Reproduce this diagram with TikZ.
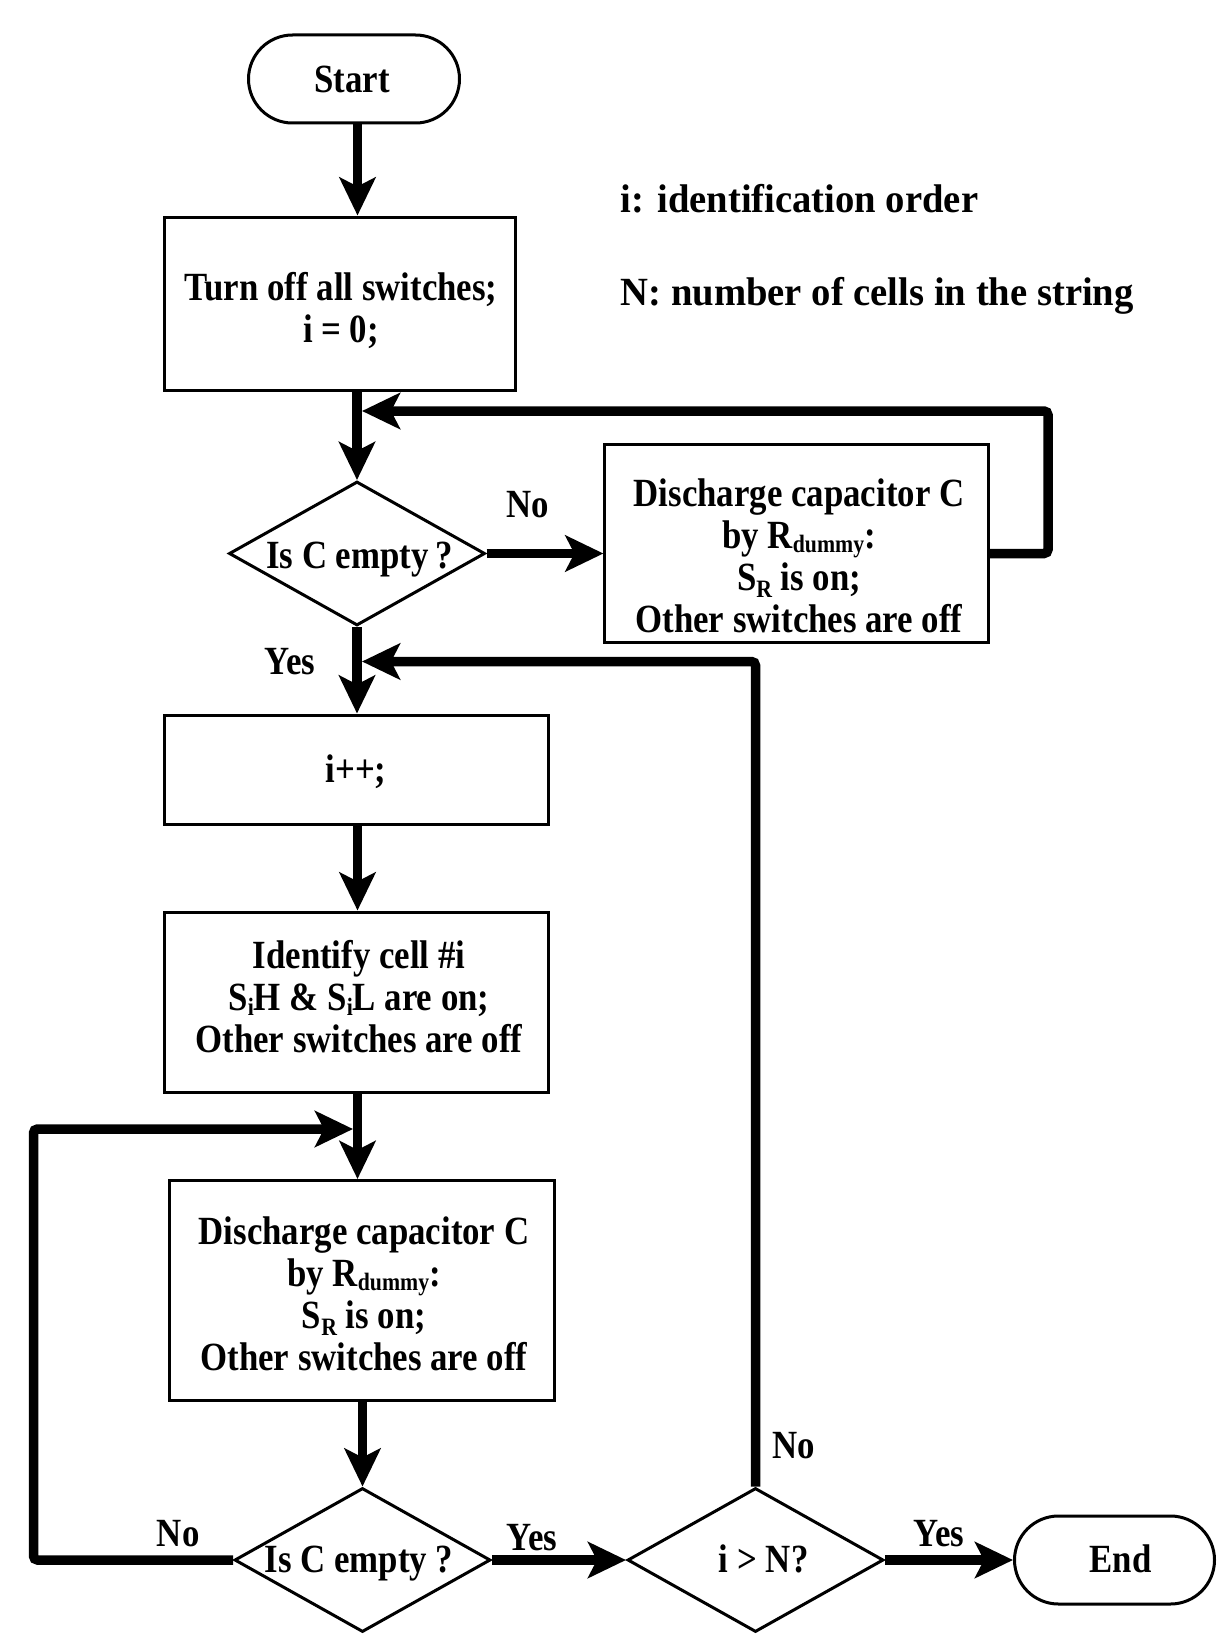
\documentclass[tikz,border=0pt]{standalone}
\usepackage{fontspec}
\setmainfont{Liberation Serif}[FakeStretch=0.87]
\newfontfamily\legfont{Liberation Serif}[FakeStretch=0.966]
\usetikzlibrary{arrows.meta,shapes.geometric}
\newcommand\mysub[2][-6pt]{\raisebox{#1}{\fontsize{25}{25}\selectfont #2}}
\begin{document}
\begin{tikzpicture}[x=1pt,y=-1pt,
  every node/.style={font=\fontsize{40}{42}\selectfont\bfseries,inner sep=0pt},
  box/.style={draw,line width=3pt,rectangle},
  term/.style={draw,line width=3pt,rectangle,rounded corners=44pt,minimum width=205pt,minimum height=88pt},
  dia/.style={draw,line width=3pt,diamond,minimum width=256pt,minimum height=144pt},
  txt/.style={align=center},
  leg/.style={anchor=base west,font=\fontsize{40}{42}\legfont\bfseries},
  flow/.style={line width=9.5pt,-{Stealth[length=38pt,width=36pt,inset=9pt]}},
  loopline/.style={line width=9.5pt,rounded corners=4pt,-{Stealth[length=38pt,width=36pt,inset=9pt]}}
]
\useasboundingbox (0,0) rectangle (1216,1643);

% helper coordinates
\coordinate (axis) at (357.5,0);
\coordinate (loopR) at (1048,0);
\coordinate (loopL) at (33.5,0);
\coordinate (j1) at (362,411);
\coordinate (j2) at (362,661.5);
\coordinate (j3) at (353,1129);

% start
\node[term,minimum width=211pt] (start) at (354,79) {};
\node (tstart) at (352,79) {Start};

% box 1
\node[box,minimum width=351pt,minimum height=173pt] (b1) at (340.2,303.5) {};
\node[txt] (tb1) at (341,311) {Turn off all switches;\\ i = 0;};

% legend
\node[leg] (leg1) at (620.6,212.8) {i: identification order};
\node[leg] (leg2) at (620.6,305.5) {N: number of cells in the string};

% decision 1
\node[dia] (d1) at (357,553.5) {};
\node (td1) at (359.6,560) {Is C empty\,?};

% discharge box (top)
\node[box,minimum width=383.6pt,minimum height=198pt] (b2) at (796.7,543.5) {};
\node[txt] (tb2) at (799,556) {Discharge capacitor C\\ by R\mysub[-4pt]{dummy}:\\ S\mysub[-7pt]{R} is on;\\ Other switches are off};

% i++
\node[box,minimum width=383.7pt,minimum height=109pt] (bi) at (356.4,769.5) {};
\node (tbi) at (356,772) {i++;};

% identify
\node[box,minimum width=383.7pt,minimum height=180pt] (bid) at (356.4,1002) {};
\node[txt] (tbid) at (359,997) {Identify cell \#i\\ S\mysub[-5pt]{i}H \& S\mysub[-5pt]{i}L are on;\\ Other switches are off};

% discharge box (bottom)
\node[box,minimum width=384.8pt,minimum height=220pt] (bd2) at (362.2,1290.5) {};
\node[txt] (tbd2) at (364,1293.6) {Discharge capacitor C\\ by R\mysub[-4pt]{dummy}:\\ S\mysub[-7pt]{R} is on;\\ Other switches are off};

% decision 2
\node[dia] (d2) at (362.5,1560) {};
\node (td2) at (359,1564) {Is C empty ?};

% decision 3
\node[dia] (d3) at (755.5,1560) {};
\node (td3) at (763.7,1559) {i > N?};

% end
\node[term,minimum width=200pt] (end) at (1114.5,1560) {};
\node (tend) at (1120.6,1559) {End};

% labels
\node (lno1) at (528,505) {No};
\node (lyes1) at (290,661.5) {Yes};
\node (lno2) at (178.2,1533.7) {No};
\node (lyes2) at (532,1537.8) {Yes};
\node (lno3) at (794,1445.6) {No};
\node (lyes3) at (939,1533.7) {Yes};

% connectors
\draw[flow] (start.south -| axis) -- (b1.north -| axis);
\draw[flow] (b1.south -| d1.north) -- (d1.north);
\draw[flow] (d1.east) -- (d1.east -| b2.west);
\draw[loopline] (d1.east -| b2.east) -- (d1.east -| loopR) |- (j1);
\draw[flow] (d1.south) -- (d1.south |- bi.north);
\draw[loopline] (d3.north) |- (j2);
\draw[flow] (bi.south -| axis) -- (bid.north -| axis);
\draw[flow] (bid.south -| axis) -- (bd2.north -| axis);
\draw[loopline] (d2.west) -- (d2.west -| loopL) |- (j3);
\draw[flow] (bd2.south -| d2.north) -- (d2.north);
\draw[flow] (d2.east) -- (d3.west);
\draw[flow] (d3.east) -- (end.west);
\end{tikzpicture}
\end{document}
